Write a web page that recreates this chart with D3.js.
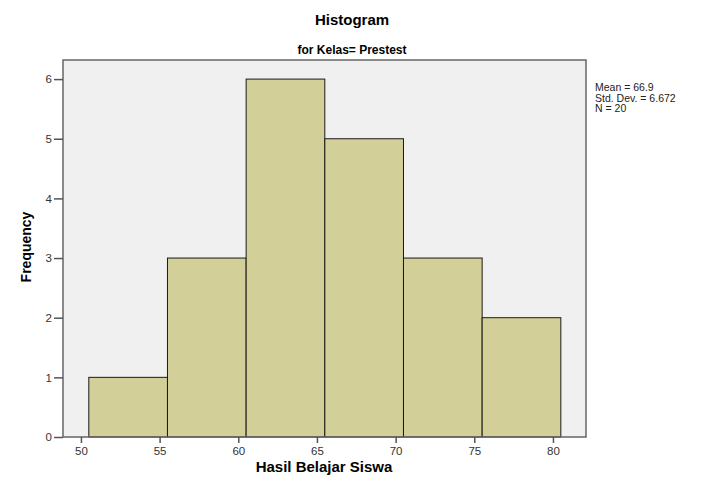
<!DOCTYPE html>
<html>
<head>
<meta charset="utf-8">
<script src="https://cdn.jsdelivr.net/npm/d3@7"></script>
<style>
  body { margin: 0; background: #fff; }
  svg { font-family: "Liberation Sans", Arial, sans-serif; }
</style>
</head>
<body>
<script>
// histogram bins (lower edge, upper edge) and counts
var binStart = [50.5, 55.5, 60.5, 65.5, 70.5, 75.5];
var binEnd = [55.5, 60.5, 65.5, 70.5, 75.5, 80.5];
var counts = [1, 3, 6, 5, 3, 2];
var xTicks = [50, 55, 60, 65, 70, 75, 80];
var yTicks = [0, 1, 2, 3, 4, 5, 6];
var stats = ["Mean = 66.9", "Std. Dev. = 6.672", "N = 20"];

var width = 702, height = 483;
var plotL = 63, plotR = 586, plotT = 60, plotB = 437;

var svg = d3.select("body").append("svg")
    .attr("width", width)
    .attr("height", height);

var x = d3.scaleLinear().domain([48.86, 82.1]).range([plotL, plotR]);
var y = d3.scaleLinear().domain([0, 6.32]).range([plotB, plotT]);

// plot background
svg.append("rect")
    .attr("x", plotL).attr("y", plotT)
    .attr("width", plotR - plotL).attr("height", plotB - plotT)
    .attr("fill", "#f0f0f0");

// bars
svg.append("g").selectAll("rect")
    .data(counts)
    .enter().append("rect")
    .attr("x", function (d, i) { return x(binStart[i]); })
    .attr("y", function (d) { return y(d); })
    .attr("width", function (d, i) { return x(binEnd[i]) - x(binStart[i]); })
    .attr("height", function (d) { return y(0) - y(d); })
    .attr("fill", "#d3cf98")
    .attr("stroke", "#1a1a1a")
    .attr("stroke-width", 1);

// frame
svg.append("rect")
    .attr("x", plotL).attr("y", plotT)
    .attr("width", plotR - plotL).attr("height", plotB - plotT)
    .attr("fill", "none")
    .attr("stroke", "#666")
    .attr("stroke-width", 1.5);

// axes
var yAxis = d3.axisLeft(y).tickValues(yTicks).tickSize(9).tickPadding(2)
    .tickFormat(d3.format("d"));
var gy = svg.append("g").attr("transform", "translate(" + plotL + ",0)").call(yAxis);
gy.select(".domain").remove();

var xAxis = d3.axisBottom(x).tickValues(xTicks).tickSize(6).tickPadding(4)
    .tickFormat(d3.format("d"));
var gx = svg.append("g").attr("transform", "translate(0," + plotB + ")").call(xAxis);
gx.select(".domain").remove();

svg.selectAll(".tick line").attr("stroke", "#555").attr("stroke-width", 1.5);
svg.selectAll(".tick text").attr("fill", "#333")
    .style("font-size", "11.5px")
    .style("font-family", "Liberation Sans, Arial, sans-serif");

// titles
svg.append("text")
    .attr("x", 352).attr("y", 25)
    .attr("text-anchor", "middle")
    .style("font-size", "15px").style("font-weight", "bold")
    .text("Histogram");

svg.append("text")
    .attr("x", 352).attr("y", 54)
    .attr("text-anchor", "middle")
    .style("font-size", "12px").style("font-weight", "bold")
    .text("for Kelas= Prestest");

svg.append("text")
    .attr("x", 324).attr("y", 472)
    .attr("text-anchor", "middle")
    .style("font-size", "15px").style("font-weight", "bold")
    .text("Hasil Belajar Siswa");

svg.append("text")
    .attr("transform", "translate(31,247) rotate(-90)")
    .attr("text-anchor", "middle")
    .style("font-size", "14px").style("font-weight", "bold")
    .text("Frequency");

// stats box text
svg.append("g").selectAll("text")
    .data(stats)
    .enter().append("text")
    .attr("x", 595)
    .attr("y", function (d, i) { return 91 + i * 10.5; })
    .style("font-size", "10.5px")
    .attr("fill", "#222")
    .text(function (d) { return d; });
</script>
</body>
</html>
